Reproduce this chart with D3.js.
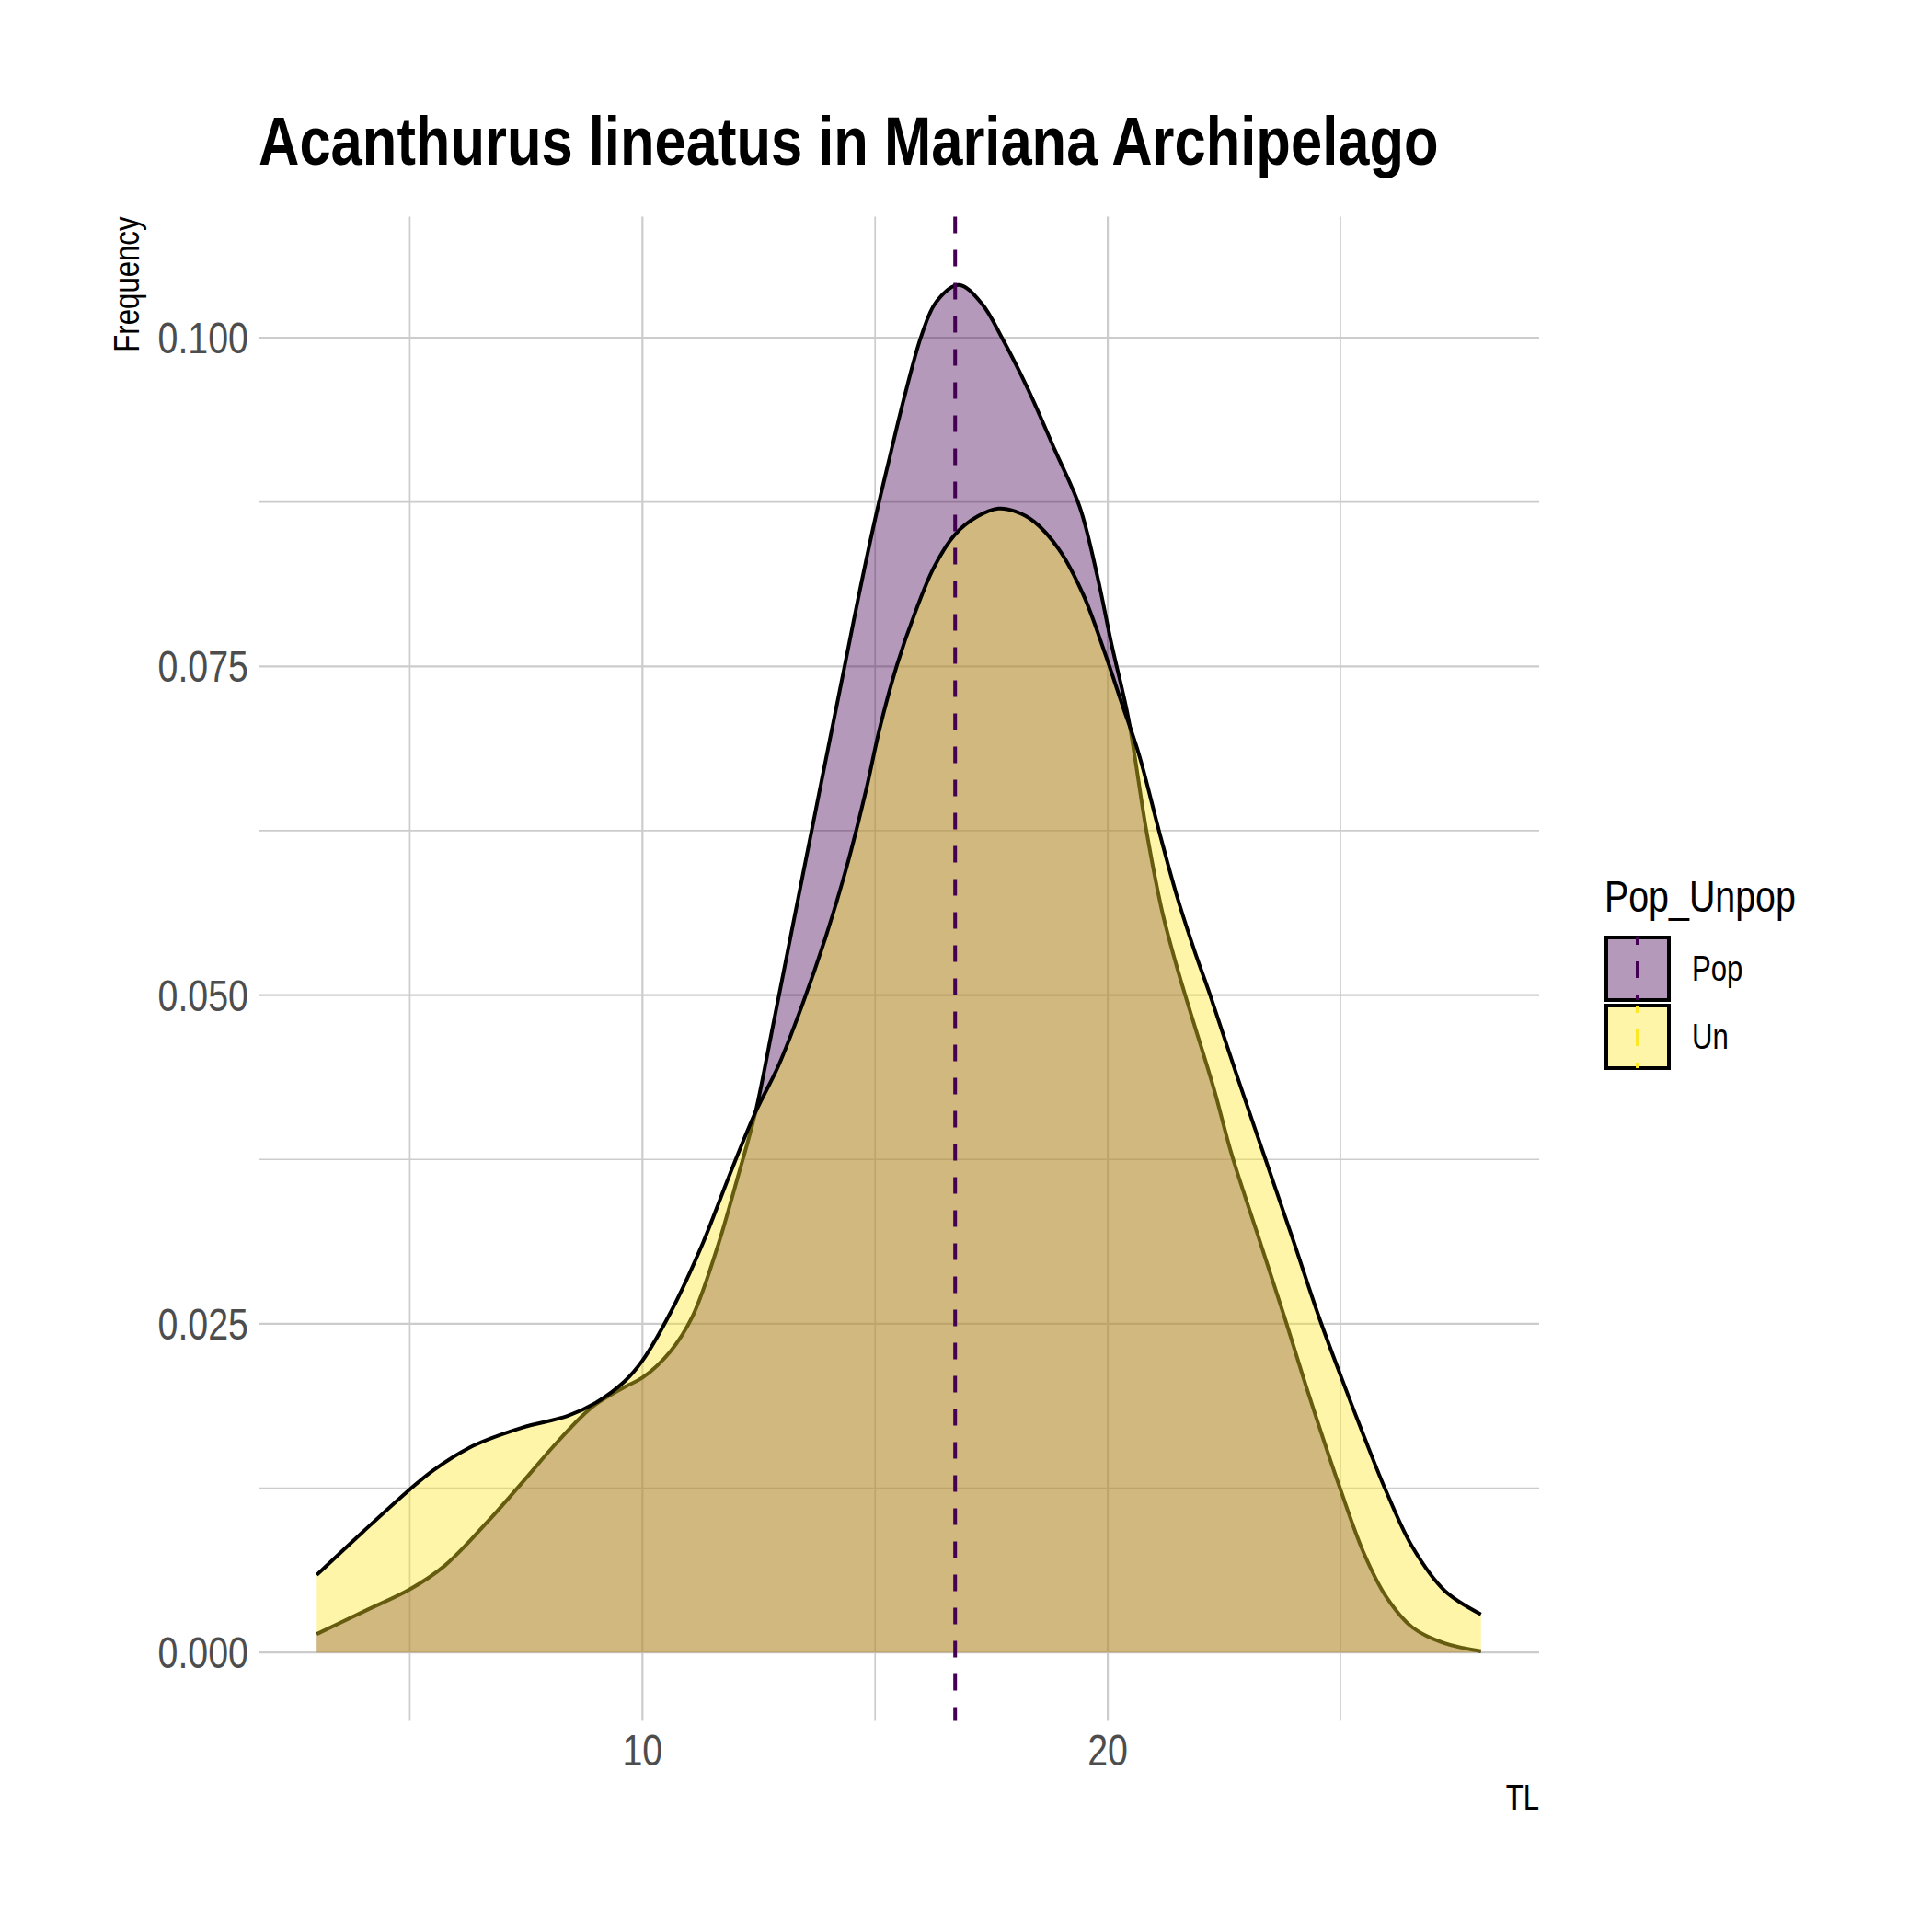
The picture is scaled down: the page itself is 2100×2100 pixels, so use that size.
<!DOCTYPE html>
<html>
<head>
<meta charset="utf-8">
<script src="https://cdn.jsdelivr.net/npm/d3@7"></script>
<style>
  body { margin: 0; background: #fff; }
</style>
</head>
<body>
<div id="chart"></div>
<script>
// density estimates (TL, density)
const popTL = [3.0, 4.0, 5.0, 5.75, 6.66, 7.41, 8.17, 8.93, 9.62, 10.0, 10.6, 11.08, 11.6, 12.06, 12.43, 12.79, 13.12, 13.45, 13.85, 14.35, 14.65, 15.0, 15.32, 15.63, 16.0, 16.31, 16.8, 17.29, 17.74, 18.27, 18.87, 19.4, 19.78, 20.08, 20.44, 20.83, 21.16, 21.48, 21.75, 22.27, 22.67, 23.22, 23.78, 24.33, 25.0, 25.51, 25.99, 26.55, 27.24, 28.02];
const popDens = [0.0014, 0.0031, 0.0048, 0.0066, 0.0099, 0.0129, 0.0160, 0.0187, 0.0202, 0.0209, 0.0229, 0.0256, 0.0307, 0.0363, 0.0411, 0.0474, 0.0533, 0.0592, 0.0663, 0.0751, 0.0804, 0.0862, 0.0910, 0.0955, 0.1002, 0.1027, 0.1040, 0.1026, 0.0999, 0.0962, 0.0914, 0.0871, 0.0818, 0.0767, 0.0711, 0.0625, 0.0565, 0.0522, 0.0490, 0.0430, 0.0378, 0.0318, 0.0257, 0.0195, 0.0124, 0.0075, 0.0042, 0.0019, 0.0007, 0.0001];

const unTL = [3.0, 4.0, 5.0, 5.52, 6.35, 7.41, 8.40, 9.0, 9.61, 10.0, 10.61, 11.27, 11.87, 12.43, 12.92, 13.45, 13.91, 14.37, 14.8, 15.1, 15.47, 15.85, 16.26, 16.71, 17.2, 17.65, 18.0, 18.42, 18.95, 19.48, 19.93, 20.3, 20.67, 21.1, 21.48, 21.88, 22.2, 22.81, 23.39, 23.98, 24.54, 25.0, 25.51, 25.99, 26.55, 27.24, 28.02];
const unDens = [0.0059, 0.0092, 0.0124, 0.0139, 0.0157, 0.0171, 0.0180, 0.0190, 0.0206, 0.0222, 0.0259, 0.0309, 0.0363, 0.0411, 0.0446, 0.0494, 0.0541, 0.0595, 0.0655, 0.0703, 0.0751, 0.0790, 0.0825, 0.0850, 0.0864, 0.0870, 0.0868, 0.0860, 0.0839, 0.0804, 0.0761, 0.0722, 0.0683, 0.0625, 0.0576, 0.0532, 0.0500, 0.0435, 0.0375, 0.0314, 0.0255, 0.0211, 0.0164, 0.0122, 0.0080, 0.0047, 0.0029];

const groups = ["Pop", "Un"];
const groupColors = ["#440154", "#FDE725"];
const meanTL = 16.72; // dashed line (Pop mean)

const yBreaks = [0, 0.025, 0.05, 0.075, 0.1];
const yMinor = [0.0125, 0.0375, 0.0625, 0.0875];
const xBreaks = [10, 20];
const xMinor = [5, 15, 25];

const W = 2100, H = 2100;
const panel = { left: 281, right: 1673, top: 235.5, bottom: 1870.5 };

const svg = d3.select("#chart").append("svg")
    .attr("width", W)
    .attr("height", H)
    .style("background", "#fff");

const FONT = '"Liberation Sans Narrow", "Arial Narrow", "Liberation Sans", Arial, sans-serif';

// check if the narrow face is really there, otherwise squeeze the normal one
const probeA = svg.append("text").style("font-family", '"Liberation Sans Narrow", "Liberation Sans"').style("font-size", "100px").text("Acanthurus lineatus");
const probeB = svg.append("text").style("font-family", '"Liberation Sans"').style("font-size", "100px").text("Acanthurus lineatus");
const ratio = probeA.node().getComputedTextLength() / probeB.node().getComputedTextLength();
probeA.remove(); probeB.remove();
const sx = ratio > 0.95 ? 0.82 : 1;

function addText(parent, x, y, str, o) {
    o = o || {};
    const t = parent.append("text")
        .attr("transform", `translate(${x},${y}) rotate(${o.rotate || 0}) scale(${sx},1)`)
        .style("font-family", FONT)
        .style("font-size", (o.size || 40) + "px")
        .style("font-weight", o.weight || "normal")
        .attr("fill", o.fill || "#000")
        .attr("text-anchor", o.anchor || "start")
        .text(str);
    return t;
}

// ggplot-like expansion of 5%
const xExt = [d3.min(popTL.concat(unTL)), d3.max(popTL.concat(unTL))];
const yExt = [0, d3.max(popDens.concat(unDens))];
const xPad = (xExt[1] - xExt[0]) * 0.05;
const yPad = (yExt[1] - yExt[0]) * 0.05;

const x = d3.scaleLinear().domain([xExt[0] - xPad, xExt[1] + xPad]).range([panel.left, panel.right]);
const y = d3.scaleLinear().domain([yExt[0] - yPad, yExt[1] + yPad]).range([panel.bottom, panel.top]);

// grid
const grid = svg.append("g");
grid.selectAll(".ymin").data(yMinor).enter().append("line")
    .attr("x1", panel.left).attr("x2", panel.right)
    .attr("y1", d => y(d)).attr("y2", d => y(d))
    .attr("stroke", "#cccccc").attr("stroke-width", 1.7);
grid.selectAll(".xmin").data(xMinor).enter().append("line")
    .attr("y1", panel.top).attr("y2", panel.bottom)
    .attr("x1", d => x(d)).attr("x2", d => x(d))
    .attr("stroke", "#cccccc").attr("stroke-width", 1.7);
grid.selectAll(".ymaj").data(yBreaks).enter().append("line")
    .attr("x1", panel.left).attr("x2", panel.right)
    .attr("y1", d => y(d)).attr("y2", d => y(d))
    .attr("stroke", "#cccccc").attr("stroke-width", 2.2);
grid.selectAll(".xmaj").data(xBreaks).enter().append("line")
    .attr("y1", panel.top).attr("y2", panel.bottom)
    .attr("x1", d => x(d)).attr("x2", d => x(d))
    .attr("stroke", "#cccccc").attr("stroke-width", 2.2);

// densities
const series = [
    { key: "Pop", data: popTL.map((t, i) => [t, popDens[i]]) },
    { key: "Un", data: unTL.map((t, i) => [t, unDens[i]]) }
];

const area = d3.area()
    .x(d => x(d[0]))
    .y0(y(0))
    .y1(d => y(d[1]))
    .curve(d3.curveCatmullRom.alpha(0.5));

const line = d3.line()
    .x(d => x(d[0]))
    .y(d => y(d[1]))
    .curve(d3.curveCatmullRom.alpha(0.5));

series.forEach((s, i) => {
    svg.append("path")
        .attr("d", area(s.data))
        .attr("fill", groupColors[i])
        .attr("fill-opacity", 0.4);
    svg.append("path")
        .attr("d", line(s.data))
        .attr("fill", "none")
        .attr("stroke", "#000")
        .attr("stroke-width", 4);
});

// mean line
svg.append("line")
    .attr("x1", x(meanTL)).attr("x2", x(meanTL))
    .attr("y1", panel.top).attr("y2", panel.bottom)
    .attr("stroke", groupColors[0])
    .attr("stroke-width", 4)
    .attr("stroke-dasharray", "18,18");

// axis labels
yBreaks.forEach(v => {
    addText(svg, 270, y(v) + 17, d3.format(".3f")(v), { size: 48, anchor: "end", fill: "#4d4d4d" });
});
xBreaks.forEach(v => {
    addText(svg, x(v), 1919, String(v), { size: 48, anchor: "middle", fill: "#4d4d4d" });
});

addText(svg, panel.right, 1967, "TL", { size: 38, anchor: "end" });
addText(svg, 151, panel.top, "Frequency", { size: 38, anchor: "end", rotate: -90 });

// title
addText(svg, panel.left, 179, "Acanthurus lineatus in Mariana Archipelago", { size: 75, weight: "bold" });

// legend
const lg = svg.append("g");
addText(lg, 1744, 991, "Pop_Unpop", { size: 48 });
const keyY = [1019, 1093];
const keyS = 68;
const keyX = 1746;
groups.forEach((g, i) => {
    lg.append("rect")
        .attr("x", keyX).attr("y", keyY[i])
        .attr("width", keyS).attr("height", keyS)
        .attr("fill", groupColors[i]).attr("fill-opacity", 0.4)
        .attr("stroke", "#000").attr("stroke-width", 4);
    lg.append("line")
        .attr("x1", keyX + keyS / 2).attr("x2", keyX + keyS / 2)
        .attr("y1", keyY[i]).attr("y2", keyY[i] + keyS)
        .attr("stroke", groupColors[i]).attr("stroke-width", 4)
        .attr("stroke-dasharray", "18,18")
        .attr("stroke-dashoffset", 10);
    addText(lg, 1839, keyY[i] + keyS / 2 + 13, g, { size: 38 });
});
</script>
</body>
</html>
